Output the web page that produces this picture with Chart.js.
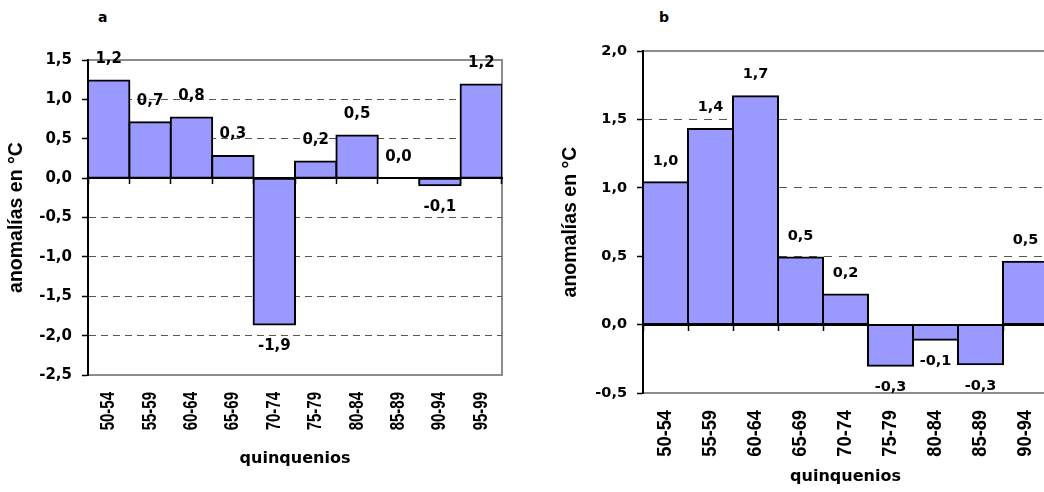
<!DOCTYPE html>
<html lang="es">
<head>
<meta charset="utf-8">
<title>Anomalías de temperatura por quinquenios</title>
<script src="https://cdn.jsdelivr.net/npm/chart.js@4.4.1/dist/chart.umd.min.js"></script>
<style>
  html, body { margin: 0; padding: 0; width: 1044px; height: 492px; overflow: hidden; background: #fff; }
  canvas { position: absolute; top: 0; }
  #chartA { left: 0; }
  #chartB { left: 520px; }
  .panel-tag { position: absolute; font: bold 14px "DejaVu Sans", sans-serif; line-height: 14px; color: #000; }
</style>
</head>
<body>
<div class="panel-tag" style="left:98px; top:10px;">a</div>
<div class="panel-tag" style="left:659px; top:10px;">b</div>
<canvas id="chartA" width="520" height="492"></canvas>
<canvas id="chartB" width="580" height="492"></canvas>
<script>
// Five-year periods (quinquenios) and temperature anomalies in °C
const categoriesA = ['50-54', '55-59', '60-64', '65-69', '70-74', '75-79', '80-84', '85-89', '90-94', '95-99'];
const anomaliesA  = [1.24, 0.71, 0.77, 0.28, -1.86, 0.21, 0.54, 0.0, -0.09, 1.19];
const yRangeA     = [-2.5, 1.5];

const categoriesB = ['50-54', '55-59', '60-64', '65-69', '70-74', '75-79', '80-84', '85-89', '90-94'];
const anomaliesB  = [1.04, 1.43, 1.67, 0.49, 0.22, -0.30, -0.11, -0.29, 0.46];
const yRangeB     = [-0.5, 2.0];

const yStep = 0.5;
const xTitle = 'quinquenios';
const yTitle = 'anomalías en °C';

// Spanish decimal comma, one decimal place
const fmt = v => (Math.abs(v) < 1e-9 ? 0 : v).toFixed(1).replace('.', ',');

const BOLD_WIDE = "'DejaVu Sans', sans-serif";
const BOLD_ARIAL = "'Liberation Sans', Arial, sans-serif";

// Grey frame around the plot area
const plotFrame = {
  id: 'plotFrame',
  beforeDraw(chart) {
    const { ctx, chartArea: a } = chart;
    ctx.save();
    ctx.strokeStyle = '#8c8c8c';
    ctx.lineWidth = 2;
    ctx.strokeRect(a.left, a.top, a.right - a.left, a.bottom - a.top);
    ctx.restore();
  }
};

// Value printed above positive bars and below negative ones
const valueLabels = {
  id: 'valueLabels',
  afterDatasetsDraw(chart, args, opts) {
    const { ctx } = chart;
    const meta = chart.getDatasetMeta(0);
    const values = chart.data.datasets[0].data;
    ctx.save();
    ctx.font = opts.font;
    ctx.fillStyle = '#000';
    ctx.textAlign = 'center';
    ctx.textBaseline = 'middle';
    meta.data.forEach((bar, i) => {
      const v = values[i];
      const y = v >= 0 ? bar.y - opts.offset : bar.y + opts.offset;
      ctx.fillText(fmt(v), bar.x, y);
    });
    ctx.restore();
  }
};

// Vertical category labels under the plot, set in a condensed bold face
const verticalCategoryLabels = {
  id: 'verticalCategoryLabels',
  afterDraw(chart, args, opts) {
    const { ctx } = chart;
    const scale = chart.scales.x;
    ctx.save();
    ctx.font = opts.font;
    ctx.fillStyle = '#000';
    ctx.textAlign = 'right';
    ctx.textBaseline = 'middle';
    scale.ticks.forEach((tick, i) => {
      ctx.save();
      ctx.translate(scale.getPixelForTick(i), scale.top + opts.padding);
      ctx.rotate(-Math.PI / 2);
      ctx.scale(opts.squeeze, 1);
      ctx.fillText(scale.getLabelForValue(tick.value), 0, 0);
      ctx.restore();
    });
    ctx.restore();
  }
};

function gridColor(ctx, min, max) {
  if (!ctx.tick) return 'rgba(0,0,0,0)';
  const v = ctx.tick.value;
  if (Math.abs(v - min) < 1e-9 || Math.abs(v - max) < 1e-9 || Math.abs(v) < 1e-9) return 'rgba(0,0,0,0)';
  return '#555';
}

function buildChart(canvasId, labels, values, range, look) {
  const [yMin, yMax] = range;
  return new Chart(document.getElementById(canvasId), {
    type: 'bar',
    data: {
      labels,
      datasets: [{
        data: values,
        backgroundColor: '#9999FF',
        borderColor: '#000',
        borderWidth: 2,
        borderSkipped: false,
        inflateAmount: 1,
        barPercentage: 1,
        categoryPercentage: 1
      }]
    },
    options: {
      responsive: false,
      animation: false,
      devicePixelRatio: 1,
      layout: { padding: look.padding },
      plugins: {
        legend: { display: false },
        tooltip: { enabled: false },
        valueLabels: { font: look.labelFont, offset: look.labelOffset },
        verticalCategoryLabels: { font: look.catFont, squeeze: look.catSqueeze, padding: look.xTickPad }
      },
      scales: {
        x: {
          type: 'category',
          axis: 'x',
          position: 'bottom',
          offset: true,
          grid: { display: false, drawTicks: false },
          border: { display: false },
          ticks: { display: false, autoSkip: false },
          title: {
            display: true, text: xTitle, color: '#000',
            font: { family: BOLD_WIDE, weight: 'bold', size: 16 },
            padding: { top: 0, bottom: look.xTitlePad }
          },
          afterFit: s => { s.height = look.xHeight; }
        },
        zero: {
          type: 'category',
          axis: 'x',
          position: { y: 0 },
          offset: true,
          grid: { offset: true, drawOnChartArea: false, drawTicks: true, tickLength: 5, tickColor: '#000', tickWidth: 1.5 },
          border: { display: true, color: '#000', width: 2 },
          ticks: { display: false }
        },
        y: {
          axis: 'y',
          min: yMin,
          max: yMax,
          ticks: {
            stepSize: yStep, padding: 10, color: '#000',
            font: { family: BOLD_WIDE, weight: 'bold', size: look.yTickSize },
            callback: v => fmt(v)
          },
          grid: {
            color: c => gridColor(c, yMin, yMax),
            lineWidth: 1, drawTicks: true, tickLength: 6,
            tickColor: '#000', tickWidth: 1.5, tickBorderDash: []
          },
          border: { display: true, color: '#000', width: 2, dash: look.dash },
          title: {
            display: true, text: yTitle, color: '#000',
            font: { family: BOLD_ARIAL, weight: 'bold', size: 19.5 },
            padding: { top: look.yTitlePad, bottom: 0 }
          },
          afterFit: s => { s.width = look.yWidth; }
        }
      }
    },
    plugins: [plotFrame, valueLabels, verticalCategoryLabels]
  });
}

buildChart('chartA', categoriesA, anomaliesA, yRangeA, {
  padding: { left: 0, top: 60, right: 18, bottom: 0 },
  yWidth: 88, xHeight: 117,
  xTickPad: 17, xTitlePad: 23.4,
  catFont: "bold 20px 'Liberation Sans', Arial, sans-serif", catSqueeze: 0.75,
  yTickSize: 15, yTitlePad: 5,
  dash: [7, 5],
  labelFont: "bold 15px 'DejaVu Sans', sans-serif", labelOffset: 21.5
});

buildChart('chartB', categoriesB, anomaliesB, yRangeB, {
  padding: { left: 0, top: 51, right: 52, bottom: 0 },
  yWidth: 123, xHeight: 99,
  xTickPad: 17, xTitlePad: 5.4,
  catFont: "bold 20.5px 'Liberation Sans', Arial, sans-serif", catSqueeze: 0.89,
  yTickSize: 14.5, yTitlePad: 38.8,
  dash: [8, 7],
  labelFont: "bold 14.5px 'DejaVu Sans', sans-serif", labelOffset: 21.5
});
</script>
</body>
</html>
